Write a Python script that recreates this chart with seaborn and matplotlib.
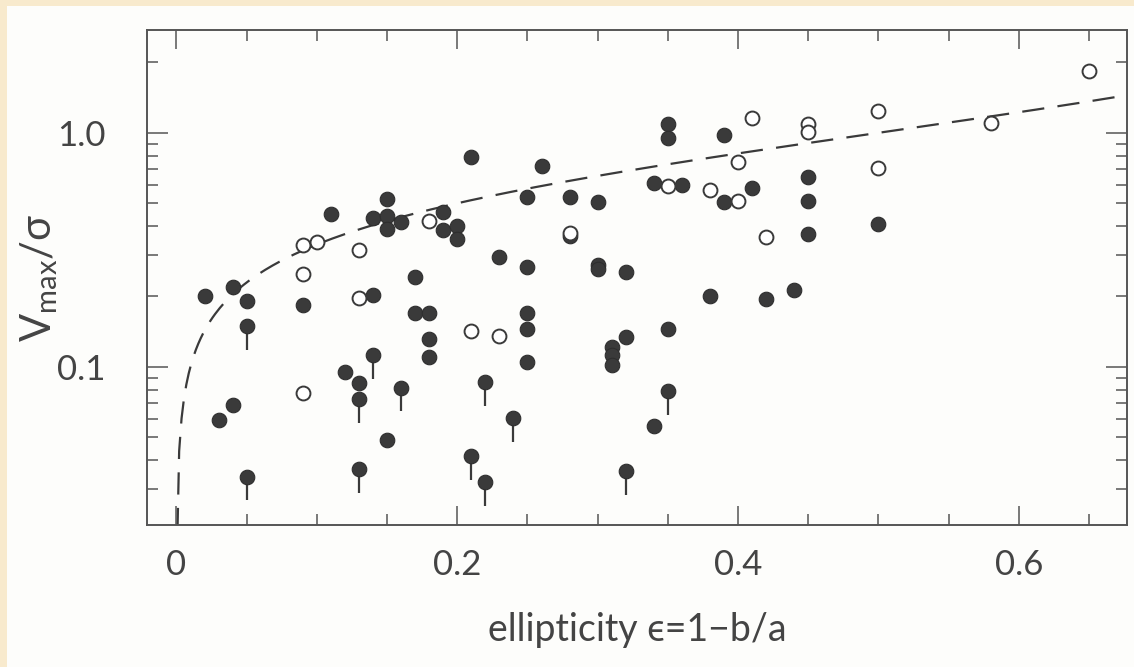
import numpy as np
import pandas as pd
import matplotlib
matplotlib.use("Agg")
import matplotlib.pyplot as plt
from matplotlib.patches import Rectangle
from matplotlib.ticker import MultipleLocator, LogLocator, NullFormatter, FixedFormatter, FixedLocator
import seaborn as sns

# ---------------- data ----------------
# filled circles: measured V_max/sigma
filled_eps = [0.02, 0.04, 0.05, 0.09, 0.14, 0.17, 0.17, 0.18, 0.18, 0.18, 0.12, 0.13, 0.04, 0.03, 0.15,
              0.21, 0.15, 0.11, 0.14, 0.15, 0.15, 0.16, 0.19, 0.19, 0.20, 0.20,
              0.35, 0.35, 0.39, 0.26, 0.25, 0.28, 0.30, 0.34, 0.36, 0.41, 0.39, 0.45, 0.45, 0.45, 0.28,
              0.23, 0.25, 0.30, 0.30, 0.32, 0.38, 0.42, 0.44, 0.25, 0.25, 0.25, 0.35, 0.32, 0.31, 0.31,
              0.31, 0.34, 0.50]
filled_v = [0.200, 0.220, 0.192, 0.183, 0.202, 0.243, 0.170, 0.170, 0.131, 0.110, 0.0946, 0.0852, 0.0686, 0.0594, 0.0488,
            0.787, 0.521, 0.451, 0.431, 0.439, 0.388, 0.414, 0.457, 0.385, 0.401, 0.351,
            1.092, 0.948, 0.980, 0.723, 0.531, 0.531, 0.504, 0.613, 0.600, 0.580, 0.504, 0.650, 0.512, 0.370, 0.362,
            0.294, 0.268, 0.273, 0.262, 0.254, 0.200, 0.195, 0.213, 0.170, 0.145, 0.105, 0.145, 0.134, 0.122, 0.112,
            0.102, 0.056, 0.408]

# filled circles with a downward tail: upper limits
limit_eps = [0.05, 0.14, 0.13, 0.16, 0.22, 0.05, 0.13, 0.21, 0.22, 0.24, 0.35, 0.32]
limit_v = [0.150, 0.112, 0.0727, 0.0816, 0.086, 0.034, 0.0365, 0.0414, 0.0322, 0.0604, 0.079, 0.036]

# open circles
open_eps = [0.18, 0.09, 0.10, 0.13, 0.09, 0.13, 0.21, 0.09, 0.23, 0.41, 0.45, 0.45, 0.40, 0.35, 0.38,
            0.40, 0.42, 0.28, 0.65, 0.50, 0.58, 0.50]
open_v = [0.422, 0.332, 0.343, 0.316, 0.250, 0.197, 0.142, 0.0777, 0.135, 1.156, 1.09, 1.01, 0.747, 0.594, 0.567,
          0.509, 0.360, 0.372, 1.845, 1.245, 1.10, 0.707]

x_ticks = [0, 0.2, 0.4, 0.6]
x_ticklabels = ["0", "0.2", "0.4", "0.6"]
y_ticks = [0.1, 1.0]
y_ticklabels = ["0.1", "1.0"]

# model curve for isotropic oblate rotators: V/sigma = sqrt(eps/(1-eps))
model_eps = np.linspace(0.0002, 0.68, 400)
model_v = np.sqrt(model_eps / (1.0 - model_eps))

# ---------------- style ----------------
sns.set_theme(style="ticks")
plt.rcParams["font.family"] = ["Lato", "DejaVu Sans"]
plt.rcParams["mathtext.fontset"] = "custom"
plt.rcParams["mathtext.rm"] = "Lato"

ink = "#3a3a3a"
text_ink = "#444444"
frame = "#555555"

fig = plt.figure(figsize=(11.34, 6.67), dpi=100, facecolor="#F8EACD")
fig.patches.append(Rectangle((7 / 1134, 0), 1 - 7 / 1134, 1 - 6 / 667, transform=fig.transFigure,
                             facecolor="#FDFDFB", edgecolor="none", zorder=-10))
ax = fig.add_axes([147 / 1134, (667 - 525) / 667, (1127 - 147) / 1134, (525 - 30) / 667])
ax.set_facecolor("#FFFFFF")
ax.patch.set_alpha(0.0)

df_model = pd.DataFrame({"eps": model_eps, "v": model_v})
sns.lineplot(data=df_model, x="eps", y="v", ax=ax, color=ink, lw=1.6,
             linestyle=(0, (10, 6)), zorder=2)

# upper-limit tails
ax.vlines(limit_eps, np.array(limit_v) * 0.79, limit_v, colors=ink, lw=1.6, zorder=3)

df_f = pd.DataFrame({"eps": filled_eps + limit_eps, "v": filled_v + limit_v})
sns.scatterplot(data=df_f, x="eps", y="v", ax=ax, s=110, color=ink, edgecolor="#2e2e2e",
                linewidth=0.8, zorder=4)
df_o = pd.DataFrame({"eps": open_eps, "v": open_v})
sns.scatterplot(data=df_o, x="eps", y="v", ax=ax, s=100, facecolor="white", edgecolor=ink,
                linewidth=1.4, zorder=4)

ax.set_yscale("log")
ax.set_xlim(-0.021, 0.677)
ax.set_ylim(0.0211, 2.75)

ax.xaxis.set_major_locator(FixedLocator(x_ticks))
ax.xaxis.set_major_formatter(FixedFormatter(x_ticklabels))
ax.xaxis.set_minor_locator(MultipleLocator(0.05))
ax.yaxis.set_major_locator(FixedLocator(y_ticks))
ax.yaxis.set_major_formatter(FixedFormatter(y_ticklabels))
ax.yaxis.set_minor_locator(LogLocator(base=10, subs=np.arange(2, 10)))
ax.yaxis.set_minor_formatter(NullFormatter())

for s in ax.spines.values():
    s.set_visible(True)
    s.set_color(frame)
    s.set_linewidth(1.4)

ax.tick_params(axis="both", which="both", direction="in", top=True, right=True, color=frame,
               labelcolor=text_ink)
ax.tick_params(axis="x", which="major", length=14, width=1.1, pad=17, labelsize=25)
ax.tick_params(axis="x", which="minor", length=8, width=1.1)
ax.tick_params(axis="y", which="major", length=15, width=1.1, pad=30, labelsize=25)
ax.tick_params(axis="y", which="minor", length=8, width=1.1)

ax.set_xlabel("ellipticity \u03f5=1\u2212b/a", fontsize=27, color=text_ink)
ax.set_ylabel(r"$\mathregular{V_{max}/\sigma}$", fontsize=30, color=text_ink)
ax.xaxis.set_label_coords(0.5, -0.175)
ax.yaxis.set_label_coords(-0.089, 0.5)

fig.savefig("out.png", dpi=100, facecolor=fig.get_facecolor())
